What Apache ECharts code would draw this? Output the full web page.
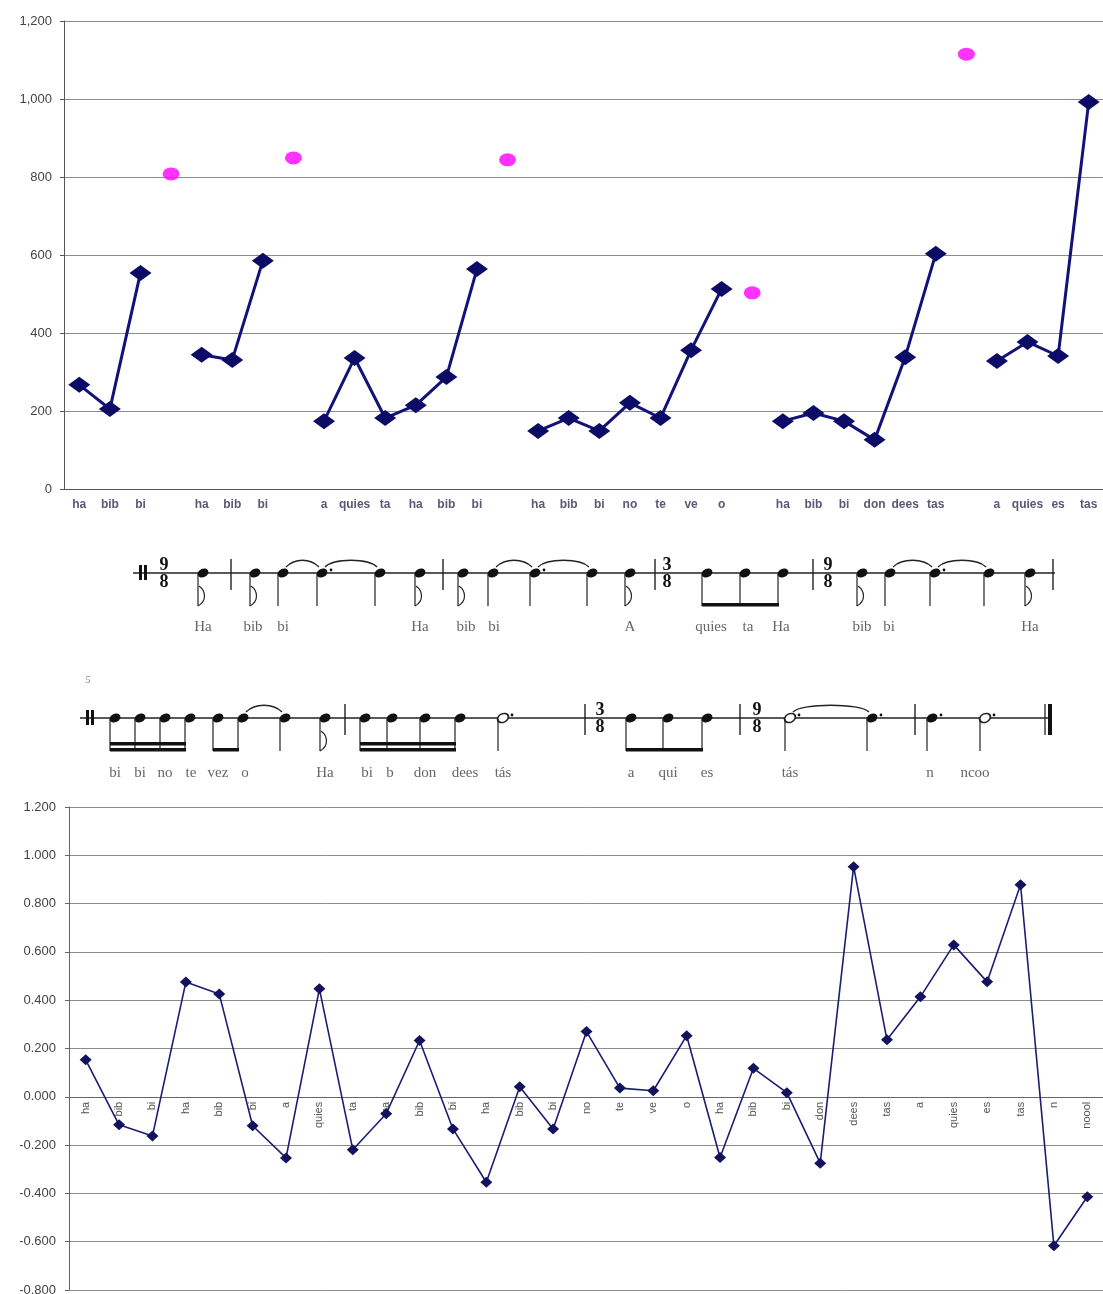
<!DOCTYPE html>
<html>
<head>
<meta charset="utf-8">
<script src="https://cdn.jsdelivr.net/npm/echarts@6/dist/echarts.min.js"></script>
<style>
html, body { margin: 0; padding: 0; background: #fff; }
#main { width: 1103px; height: 1294px; }
</style>
</head>
<body>
<div id="main"></div>
<script>
// upper chart: syllables with gaps between the phrases
var topLabels = ['ha','bib','bi','','ha','bib','bi','','a','quies','ta','ha','bib','bi','',
  'ha','bib','bi','no','te','ve','o','','ha','bib','bi','don','dees','tas','','a','quies','es','tas'];
var topValues = [267,205,554,'-',344,331,585,'-',174,336,182,215,287,564,'-',
  149,182,149,221,182,356,513,'-',174,195,174,126,338,603,'-',328,377,341,992];
var topPeaks = ['-','-','-',808,'-','-','-',849,'-','-','-','-','-','-',844,
  '-','-','-','-','-','-','-',503,'-','-','-','-','-','-',1115,'-','-','-','-'];

// lower chart
var lowLabels = ['ha','bib','bi','ha','bib','bi','a','quies','ta','ha','bib','bi','ha','bib','bi',
  'no','te','ve','o','ha','bib','bi','don','dees','tas','a','quies','es','tas','n','noool'];
var lowValues = [0.153,-0.116,-0.162,0.475,0.426,-0.120,-0.253,0.447,-0.219,-0.070,0.233,-0.133,-0.354,0.042,-0.133,
  0.270,0.036,0.025,0.253,-0.251,0.118,0.017,-0.275,0.953,0.236,0.414,0.629,0.476,0.878,-0.617,-0.414];

// lyrics under the two staves
var lyrics1 = ['Ha','bib','bi','Ha','bib','bi','A','quies','ta','Ha','bib','bi','Ha'];
var lyrics2 = ['bi','bi','no','te','vez','o','Ha','bi','b','don','dees','tás','a','qui','es','tás','n','ncoo'];

var chart = echarts.init(document.getElementById('main'));

// ---- notation drawn with graphic elements ----
var g = [];
var ink = '#222';
function ln(x1, y1, x2, y2, w) {
  g.push({ type: 'line', silent: true, shape: { x1: x1, y1: y1, x2: x2, y2: y2 }, style: { stroke: ink, lineWidth: w || 1.2 } });
}
function head(x, y, hollow) {
  g.push({ type: 'circle', silent: true, x: x, y: y, scaleX: 1.35, rotation: 0.45, shape: { cx: 0, cy: 0, r: 4.2 },
    style: hollow ? { fill: '#fff', stroke: ink, lineWidth: 1.4 } : { fill: '#111' } });
}
function dot(x, y) {
  g.push({ type: 'circle', silent: true, shape: { cx: x + 9, cy: y - 3, r: 1.4 }, style: { fill: '#111' } });
}
function note(kind, x, y) {
  var sx = x - 5;
  if (kind === 'clef') {
    g.push({ type: 'rect', silent: true, shape: { x: x - 4, y: y - 8, width: 3, height: 15 }, style: { fill: '#111' } });
    g.push({ type: 'rect', silent: true, shape: { x: x + 1, y: y - 8, width: 3, height: 15 }, style: { fill: '#111' } });
    return;
  }
  if (kind === 'bar') { ln(x, y - 14, x, y + 17, 1.4); return; }
  if (kind === 'end') {
    ln(x, y - 14, x, y + 17, 1.3);
    g.push({ type: 'rect', silent: true, shape: { x: x + 3, y: y - 14, width: 4, height: 31 }, style: { fill: '#111' } });
    return;
  }
  head(x, y, kind === 'h');
  ln(sx, y + 1, sx, y + 33, 1.2);
  if (kind === 'e') {
    g.push({ type: 'bezierCurve', silent: true,
      shape: { x1: sx, y1: y + 33, cpx1: sx + 9, cpy1: y + 28, cpx2: sx + 8, cpy2: y + 18, x2: sx + 1, y2: y + 13 },
      style: { stroke: ink, lineWidth: 1.2, fill: null } });
  }
  if (kind === 'dq' || kind === 'h') dot(x, y);
}
function timeSig(top, bot, x, y) {
  [[top, y - 8], [bot, y + 9]].forEach(function (d) {
    g.push({ type: 'text', silent: true, x: x, y: d[1],
      style: { text: d[0], font: 'bold 18px "Liberation Serif"', fill: '#111', align: 'center', verticalAlign: 'middle' } });
  });
}
function tie(x1, x2, y) {
  g.push({ type: 'bezierCurve', silent: true,
    shape: { x1: x1 + 3, y1: y - 6, cpx1: x1 + 12, cpy1: y - 15, cpx2: x2 - 12, cpy2: y - 15, x2: x2 - 3, y2: y - 6 },
    style: { stroke: ink, lineWidth: 1.3, fill: null } });
}
function beam(x1, x2, n, y) {
  for (var i = 0; i < n; i++) {
    g.push({ type: 'rect', silent: true, shape: { x: x1 - 5, y: y + 30 - i * 6, width: x2 - x1 + 1, height: 3.5 }, style: { fill: '#111' } });
  }
}
function lyricRow(words, xs, y) {
  words.forEach(function (w, i) {
    g.push({ type: 'text', silent: true, x: xs[i], y: y,
      style: { text: w, font: '15px "Liberation Serif"', fill: '#666', align: 'center', verticalAlign: 'middle' } });
  });
}

var y1 = 573, y2 = 718;
ln(133, y1, 1055, y1, 1.5);
[['clef',143],['e',203],['bar',231],['e',255],['q',283],['dq',322],['q',380],['e',420],['bar',443],
 ['e',463],['q',493],['dq',535],['q',592],['e',630],['bar',655],['b',707],['b',745],['b',783],['bar',813],
 ['e',862],['q',890],['dq',935],['q',989],['e',1030],['bar',1053]].forEach(function (n) { note(n[0], n[1], y1); });
timeSig('9', '8', 164, y1); timeSig('3', '8', 667, y1); timeSig('9', '8', 828, y1);
[[283,322],[322,380],[493,535],[535,592],[890,935],[935,989]].forEach(function (t) { tie(t[0], t[1], y1); });
beam(707, 783, 1, y1);
lyricRow(lyrics1, [203,253,283,420,466,494,630,711,748,781,862,889,1030], 627);

ln(80, y2, 1050, y2, 1.5);
g.push({ type: 'text', silent: true, x: 88, y: 680, style: { text: '5', font: 'italic 11px "Liberation Serif"', fill: '#888', align: 'center', verticalAlign: 'middle' } });
[['clef',90],['b',115],['b',140],['b',165],['b',190],['b',218],['b',243],['q',285],['e',325],['bar',345],
 ['b',365],['b',392],['b',425],['b',460],['h',503],['bar',585],['b',631],['b',668],['b',707],['bar',740],
 ['h',790],['dq',872],['bar',915],['dq',932],['h',985],['end',1045]].forEach(function (n) { note(n[0], n[1], y2); });
timeSig('3', '8', 600, y2); timeSig('9', '8', 757, y2);
[[243,285],[790,872]].forEach(function (t) { tie(t[0], t[1], y2); });
beam(115, 190, 2, y2); beam(218, 243, 1, y2); beam(365, 460, 2, y2); beam(631, 707, 1, y2);
lyricRow(lyrics2, [115,140,165,191,218,245,325,367,390,425,465,503,631,668,707,790,930,975], 773);

// ---- charts ----
var gridColor = '#8c8c8c';
var lowTop = 807, lowHeight = 483, lowMin = -0.8, lowMax = 1.2;
// the category axis of the lower chart sits on the zero line
var zeroShift = -lowHeight * (0 - lowMin) / (lowMax - lowMin);

chart.setOption({
  animation: false,
  backgroundColor: '#fff',
  grid: [
    { left: 64, top: 21, width: 1040, height: 468, containLabel: false, outerBoundsMode: 'none' },
    { left: 69, top: lowTop, width: 1035, height: lowHeight, containLabel: false, outerBoundsMode: 'none' }
  ],
  xAxis: [
    {
      gridIndex: 0, type: 'category', data: topLabels,
      axisLine: { lineStyle: { color: '#555' } },
      axisTick: { length: 4, lineStyle: { color: '#555' } },
      axisLabel: { interval: 0, margin: 10, fontFamily: 'Liberation Sans', fontSize: 12, fontWeight: 'bold', color: '#5d5775' }
    },
    {
      gridIndex: 1, type: 'category', data: lowLabels, position: 'bottom', offset: zeroShift,
      axisLine: { onZero: false, lineStyle: { color: '#666' } },
      axisTick: { length: 4, lineStyle: { color: '#666' } },
      axisLabel: { interval: 0, rotate: 90, margin: 5, fontFamily: 'Liberation Sans', fontSize: 11, color: '#555' }
    }
  ],
  yAxis: [
    {
      gridIndex: 0, type: 'value', min: 0, max: 1200, interval: 200,
      axisLine: { show: true, lineStyle: { color: '#555' } },
      axisTick: { show: true, length: 4, lineStyle: { color: '#555' } },
      splitLine: { lineStyle: { color: gridColor, width: 1 } },
      axisLabel: { margin: 12, fontFamily: 'Liberation Sans', fontSize: 13, color: '#444',
        formatter: function (v) { return v.toLocaleString('en-US'); } }
    },
    {
      gridIndex: 1, type: 'value', min: lowMin, max: lowMax, interval: 0.2,
      axisLine: { show: true, lineStyle: { color: '#666' } },
      axisTick: { show: true, length: 4, lineStyle: { color: '#666' } },
      splitLine: { lineStyle: { color: gridColor, width: 1 } },
      axisLabel: { margin: 13, fontFamily: 'Liberation Sans', fontSize: 13, color: '#444',
        formatter: function (v) { return v.toFixed(3); } }
    }
  ],
  series: [
    {
      name: 'pitch', type: 'line', xAxisIndex: 0, yAxisIndex: 0, data: topValues,
      connectNulls: false, symbol: 'diamond', symbolSize: [22, 16],
      lineStyle: { color: '#12127a', width: 3 }, itemStyle: { color: '#0c0c66' }
    },
    {
      name: 'peaks', type: 'scatter', xAxisIndex: 0, yAxisIndex: 0, data: topPeaks,
      symbol: 'circle', symbolSize: [17, 13], itemStyle: { color: '#ff00ff' }
    },
    {
      name: 'change', type: 'line', xAxisIndex: 1, yAxisIndex: 1, data: lowValues,
      symbol: 'diamond', symbolSize: [12, 11],
      lineStyle: { color: '#1c1c72', width: 1.6 }, itemStyle: { color: '#12125e' }
    }
  ],
  graphic: g
});
</script>
</body>
</html>
